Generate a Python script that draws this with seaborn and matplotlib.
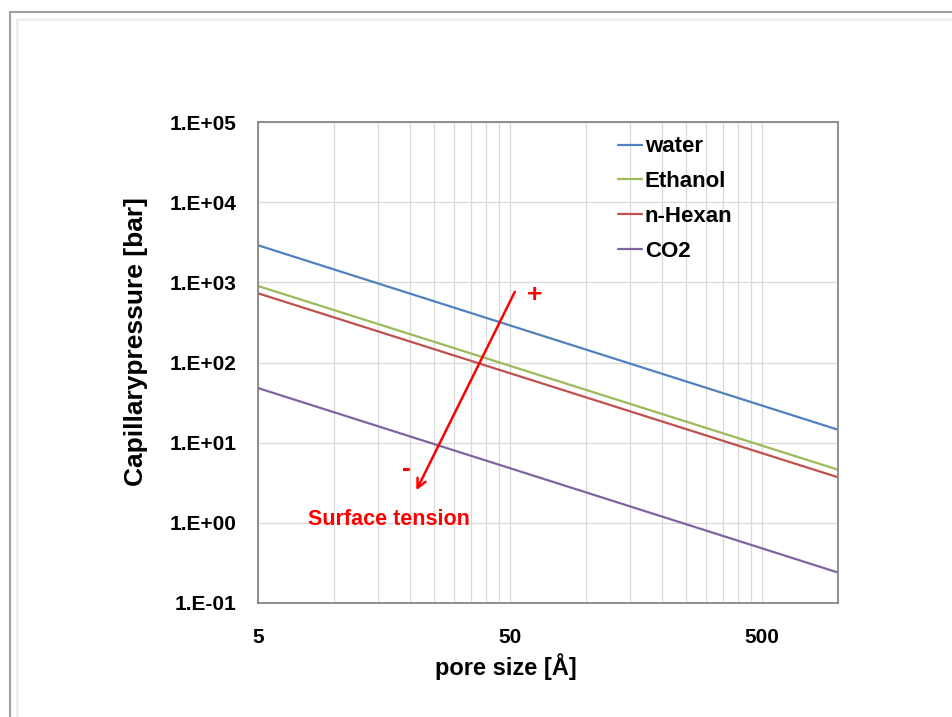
import matplotlib
matplotlib.use("Agg")
import matplotlib.pyplot as plt
import matplotlib.ticker as mticker
from matplotlib.lines import Line2D
import seaborn as sns
import pandas as pd
import numpy as np

# ---- data ----
pore_size = [5, 1000]                 # Å
water = [2900, 14.5]                  # bar
ethanol = [900, 4.6]
n_hexan = [730, 3.7]
co2 = [48, 0.24]
fluids = ["water", "Ethanol", "n-Hexan", "CO2"]
colors = {"water": "#4F81BD", "Ethanol": "#9BBB59", "n-Hexan": "#C0504D", "CO2": "#8064A2"}
x_ticks = [5, 50, 500]
x_tick_labels = ["5", "50", "500"]
y_ticks = [1e-1, 1e0, 1e1, 1e2, 1e3, 1e4, 1e5]

series = {"water": water, "Ethanol": ethanol, "n-Hexan": n_hexan, "CO2": co2}
rows = []
for f in fluids:
    for x, y in zip(pore_size, series[f]):
        rows.append({"pore": x, "pressure": y, "fluid": f})
df = pd.DataFrame(rows)

sns.set_style("white")
plt.rcParams["font.family"] = ["Liberation Sans", "DejaVu Sans"]
plt.rcParams["font.weight"] = "bold"
plt.rcParams["text.color"] = "black"
plt.rcParams["axes.labelcolor"] = "black"
plt.rcParams["xtick.color"] = "black"
plt.rcParams["ytick.color"] = "black"

TICK_FS = 15

fig = plt.figure(figsize=(9.52, 7.17), dpi=100)
ax = fig.add_axes([258 / 952, 1 - 603 / 717, 580 / 952, 481 / 717])

sns.lineplot(data=df, x="pore", y="pressure", hue="fluid", hue_order=fluids,
             palette=colors, linewidth=1.6, ax=ax, legend=True)

ax.set_xscale("log")
ax.set_yscale("log")
ax.set_xlim(5, 1000)
ax.set_ylim(0.1, 1e5)

# ticks
ax.xaxis.set_major_locator(mticker.FixedLocator(x_ticks))
ax.xaxis.set_major_formatter(mticker.FixedFormatter(x_tick_labels))
minor_x = [m * d for d in [5, 50, 500] for m in range(2, 10)]
ax.xaxis.set_minor_locator(mticker.FixedLocator(minor_x))
ax.xaxis.set_minor_formatter(mticker.NullFormatter())
ax.yaxis.set_major_locator(mticker.FixedLocator(y_ticks))
ax.yaxis.set_major_formatter(mticker.FuncFormatter(
    lambda v, p: "1.E{:+03d}".format(int(round(np.log10(v))))))
ax.yaxis.set_minor_locator(mticker.NullLocator())

ax.tick_params(axis="both", which="major", direction="out", length=6, width=1,
               color="#868686", labelsize=TICK_FS, labelcolor="black")
ax.tick_params(axis="x", which="minor", length=0)
ax.tick_params(axis="y", pad=9.5)
ax.tick_params(axis="x", pad=12)
for lab in ax.get_xticklabels() + ax.get_yticklabels():
    lab.set_fontweight("bold")

ax.grid(True, which="major", axis="both", color="#d9d9d9", linewidth=0.9)
ax.grid(True, which="minor", axis="x", color="#d9d9d9", linewidth=0.9)
ax.set_axisbelow(True)
for s in ax.spines.values():
    s.set_visible(True)
    s.set_color("#868686")
    s.set_linewidth(1.3)

ax.set_xlabel("pore size [Å]", fontsize=17, fontweight="bold", color="black")
ax.set_ylabel("Capillarypressure [bar]", fontsize=19, fontweight="bold", color="black")
ax.xaxis.set_label_coords((506 - 258) / 580, -0.105)
ax.yaxis.set_label_coords(-0.19, (603 - 342) / 481)

leg = ax.legend(loc="upper left", bbox_to_anchor=(0.62, 0.97), frameon=False,
                fontsize=16, handlelength=1.1, handletextpad=0.12,
                labelspacing=0.62, borderaxespad=0, borderpad=0)
for t in leg.get_texts():
    t.set_fontweight("bold")
    t.set_color("black")
for h in leg.get_lines():
    h.set_linewidth(1.6)

# annotation: surface tension arrow
arrow_start = (52.8, 817)
arrow_end = (21.0, 2.37)
ax.annotate("", xy=arrow_end, xytext=arrow_start,
            arrowprops=dict(arrowstyle="->", color="red", lw=1.8, mutation_scale=16))
ax.text(62.8, 700, "+", color="red", fontsize=19, fontweight="bold",
        ha="center", va="center")
ax.text(19.4, 4.7, "-", color="red", fontsize=19, fontweight="bold",
        ha="center", va="center")
ax.text(16.5, 1.09, "Surface tension", color="red", fontsize=15.5, fontweight="bold",
        ha="center", va="center")

# figure frame lines
W, H = 952, 717
fig.add_artist(Line2D([10 / W, 1], [1 - 12 / H, 1 - 12 / H], color="#a0a0a0", lw=1.5))
fig.add_artist(Line2D([10 / W, 10 / W], [0, 1 - 12 / H], color="#a0a0a0", lw=1.5))
fig.add_artist(Line2D([16 / W, 1], [1 - 19 / H, 1 - 19 / H], color="#eeeeee", lw=2))
fig.add_artist(Line2D([16.5 / W, 16.5 / W], [0, 1 - 19 / H], color="#eeeeee", lw=2))

fig.savefig("out.png", dpi=100)
